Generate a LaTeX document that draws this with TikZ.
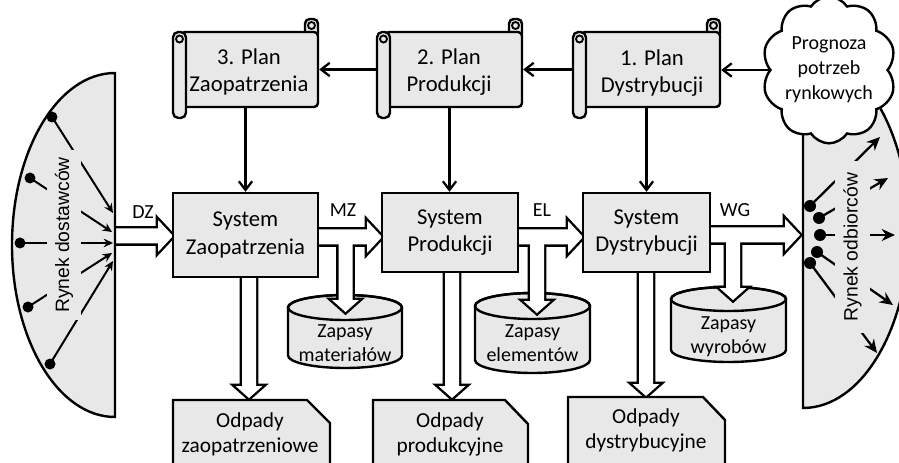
\documentclass[tikz,border=0pt]{standalone}
\usepackage{fontspec}
\setmainfont{Carlito}
\newfontfamily\arialf{Liberation Sans}
\usetikzlibrary{arrows.meta,calc,shapes.symbols}
\definecolor{shade}{RGB}{232,232,232}
\def\fatH#1#2{($(#1)+(0,-7.5)$) -- ($(#2)+(-15,-7.5)$) -- ($(#2)+(-15,-16)$) -- (#2) -- ($(#2)+(-15,16)$) -- ($(#2)+(-15,7.5)$) -- ($(#1)+(0,7.5)$) -- cycle}
\def\fatV#1#2{($(#1)+(7,0)$) -- ($(#2)+(7,-12)$) -- ($(#2)+(13.5,-12)$) -- (#2) -- ($(#2)+(-13.5,-12)$) -- ($(#2)+(-7,-12)$) -- ($(#1)+(-7,0)$) -- cycle}
\newcommand\planscroll[4]{%
  \draw[box, rounded corners=3.5pt] (#2-13,#3+6) rectangle (#2,#3-13);
  \draw[line width=1.4pt] (#2-6.5,#3-6.5) circle[radius=3.5];
  \draw[box, rounded corners=3pt] (#1+8,#3) rectangle (#2,#4);
  \draw[box, rounded corners=4pt] (#1,#3) rectangle (#1+13,#4+11);
  \draw[line width=1.4pt] (#1+6.5,#3+7) circle[radius=3.5];
}
\newcommand\cylshape[5]{%
  \draw[box] (#1-#2,#3+#5) -- (#1-#2,#4-#5) arc[start angle=180,end angle=0,x radius=#2,y radius=#5] -- (#1+#2,#3+#5) arc[start angle=0,end angle=-180,x radius=#2,y radius=#5] -- cycle;
  \draw[line width=1.8pt] (#1,#3+#5) ellipse[x radius=#2,y radius=#5];
}
\begin{document}
\begin{tikzpicture}[x=0.75pt,y=-0.75pt,line width=1.8pt,
  box/.style={draw,fill=shade,line width=1.8pt},
  thinarr/.style={line width=1.7pt,-{Straight Barb[length=6.5pt,width=10pt]}},
  inl/.style={line width=1.5pt,-{Stealth[length=7pt,width=6.5pt]}},
  inr/.style={line width=1.7pt,-{Stealth[length=10pt,width=9pt]}},
  systxt/.style={align=center,font=\fontsize{17}{20.5}\selectfont,inner sep=0pt},
  cyltxt/.style={align=center,font=\fontsize{15}{18}\selectfont,inner sep=0pt},
  otxt/.style={align=center,font=\fontsize{16}{18.75}\selectfont,inner sep=0pt},
  lbl/.style={font=\fontsize{15}{18}\selectfont,inner sep=0pt},
  rottxt/.style={rotate=90,fill=shade,font=\arialf\fontsize{14.5}{16}\selectfont}
]
\useasboundingbox (0,0) rectangle (899,463);
\clip (0,0) rectangle (899,463);

% storage cylinders
\cylshape{345}{57}{295}{368}{12.5}
\cylshape{532.5}{57.5}{293}{373}{13}
\cylshape{728.5}{57.5}{287}{362}{12}
\node[cyltxt] (zm) at (345,343) {Zapasy\\materiałów};
\node[cyltxt] (ze) at (532.5,343) {Zapasy\\elementów};
\node[cyltxt] (zw) at (728.5,337) {Zapasy\\wyrobów};

% block arrow end points
\coordinate (dzA) at (115,236); \coordinate (dzB) at (173,236);
\coordinate (mzA) at (318,237); \coordinate (mzB) at (382,237);
\coordinate (mzC) at (345.5,237); \coordinate (mzD) at (345.5,312);
\coordinate (elA) at (518,237); \coordinate (elB) at (583,237);
\coordinate (elC) at (537,237); \coordinate (elD) at (537,313);
\coordinate (wgA) at (710,235); \coordinate (wgB) at (800,235);
\coordinate (wgC) at (733,235); \coordinate (wgD) at (733,300);
\coordinate (w1A) at (249,277); \coordinate (w1B) at (249,398);
\coordinate (w2A) at (452,272); \coordinate (w2B) at (452,398);
\coordinate (w3A) at (646,272); \coordinate (w3B) at (646,396);

\path[draw,line width=3.6pt] \fatH{dzA}{dzB} \fatH{mzA}{mzB} \fatV{mzC}{mzD} \fatH{elA}{elB} \fatV{elC}{elD} \fatH{wgA}{wgB} \fatV{wgC}{wgD} \fatV{w1A}{w1B} \fatV{w2A}{w2B} \fatV{w3A}{w3B};
\fill[white] \fatH{dzA}{dzB};
\fill[white] \fatH{mzA}{mzB};
\fill[white] \fatV{mzC}{mzD};
\fill[white] \fatH{elA}{elB};
\fill[white] \fatV{elC}{elD};
\fill[white] \fatH{wgA}{wgB};
\fill[white] \fatV{wgC}{wgD};
\fill[white] \fatV{w1A}{w1B};
\fill[white] \fatV{w2A}{w2B};
\fill[white] \fatV{w3A}{w3B};

\node[lbl] (ldz) at (143,212) {DZ};
\node[lbl] (lmz) at (343,210) {MZ};
\node[lbl] (lel) at (542,210) {EL};
\node[lbl] (lwg) at (735,210) {WG};

% systems
\node[box,systxt,minimum width=108.75pt,minimum height=63pt] (s1) at (245.5,235) {System\\Zaopatrzenia};
\node[box,systxt,minimum width=102pt,minimum height=59.25pt] (s2) at (450,232.5) {System\\Produkcji};
\node[box,systxt,minimum width=95.25pt,minimum height=59.25pt] (s3) at (646.5,232.5) {System\\Dystrybucji};

% waste boxes
\draw[box] (173,400) -- (307,400) -- (330,423) -- (330,475) -- (173,475) -- cycle;
\draw[box] (373,400) -- (505,400) -- (528,424) -- (528,475) -- (373,475) -- cycle;
\draw[box] (568,397) -- (703,397) -- (725,420) -- (725,475) -- (568,475) -- cycle;
\node[otxt] (o1) at (250,434.5) {Odpady\\zaopatrzeniowe};
\node[otxt] (o2) at (450,434.5) {Odpady\\produkcyjne};
\node[otxt] (o3) at (646,430) {Odpady\\dystrybucyjne};

% supplier market
\draw[box] (115,73) arc[start angle=-90,end angle=-270,x radius=103,y radius=172] -- cycle;
\draw[inl] (52,117) -- (113,213);
\draw[inl] (30,178) -- (112,232);
\draw[inl] (20,243) -- (113,243);
\draw[inl] (28,307) -- (112,253);
\draw[inl] (50,364) -- (113,261);
\node[rottxt,inner xsep=5pt,inner ysep=6pt] (rd) at (64,235) {Rynek dostawców};
\foreach \p in {(52,117),(30,178),(20,243),(28,307),(50,364)} \fill \p circle[radius=5.5];

% customer market
\draw[box] (803,408) arc[start angle=90,end angle=-90,x radius=106,y radius=178] -- cycle;
\draw[inr] (810,206) -- (880,137);
\draw[inr] (819,218) -- (888,178);
\draw[inr] (820,235) -- (895,235);
\draw[inr] (817,252) -- (893,305);
\draw[inr] (810,263) -- (877,353);
\node[rottxt,inner xsep=9pt,inner ysep=6pt] (ro) at (852.5,247) {Rynek odbiorców};
\foreach \p in {(810,206),(819,218),(820,235),(817,252),(810,263)} \fill \p circle[radius=6];

% plans
\planscroll{173}{318}{32}{107}
\planscroll{377}{522}{32}{107}
\planscroll{573}{720}{32}{107}
\node[minimum width=108.75pt,minimum height=56.25pt,inner sep=0pt] (p3) at (245.5,69.5) {};
\node[minimum width=108.75pt,minimum height=56.25pt,inner sep=0pt] (p2) at (449.5,69.5) {};
\node[minimum width=110.25pt,minimum height=56.25pt,inner sep=0pt] (p1) at (646.5,69.5) {};
\node[systxt] (t3) at (249,72) {3. Plan\\Zaopatrzenia};
\node[systxt] (t2) at (449,72) {2. Plan\\Produkcji};
\node[systxt] (t1) at (652,73) {1. Plan\\Dystrybucji};

% forecast cloud
\node[cloud,draw,fill=white,line width=1.8pt,cloud puffs=10,cloud puff arc=115,cloud ignores aspect,minimum width=96pt,minimum height=110pt,inner sep=0pt,align=center,font=\fontsize{15}{18.75}\selectfont] (cl) at (829,70) {Prognoza\\potrzeb\\rynkowych};

% plan flow
\draw[thinarr] (cl.west) -- (cl.west -| p1.east);
\draw[thinarr] (p1.west) -- (p2.east);
\draw[thinarr] (p2.west) -- (p3.east);
\draw[thinarr] (p3.south) -- (s1.north);
\draw[thinarr] (p2.south) -- (p2.south |- s2.north);
\draw[thinarr] (p1.south) -- (s3.north);
\end{tikzpicture}
\end{document}
